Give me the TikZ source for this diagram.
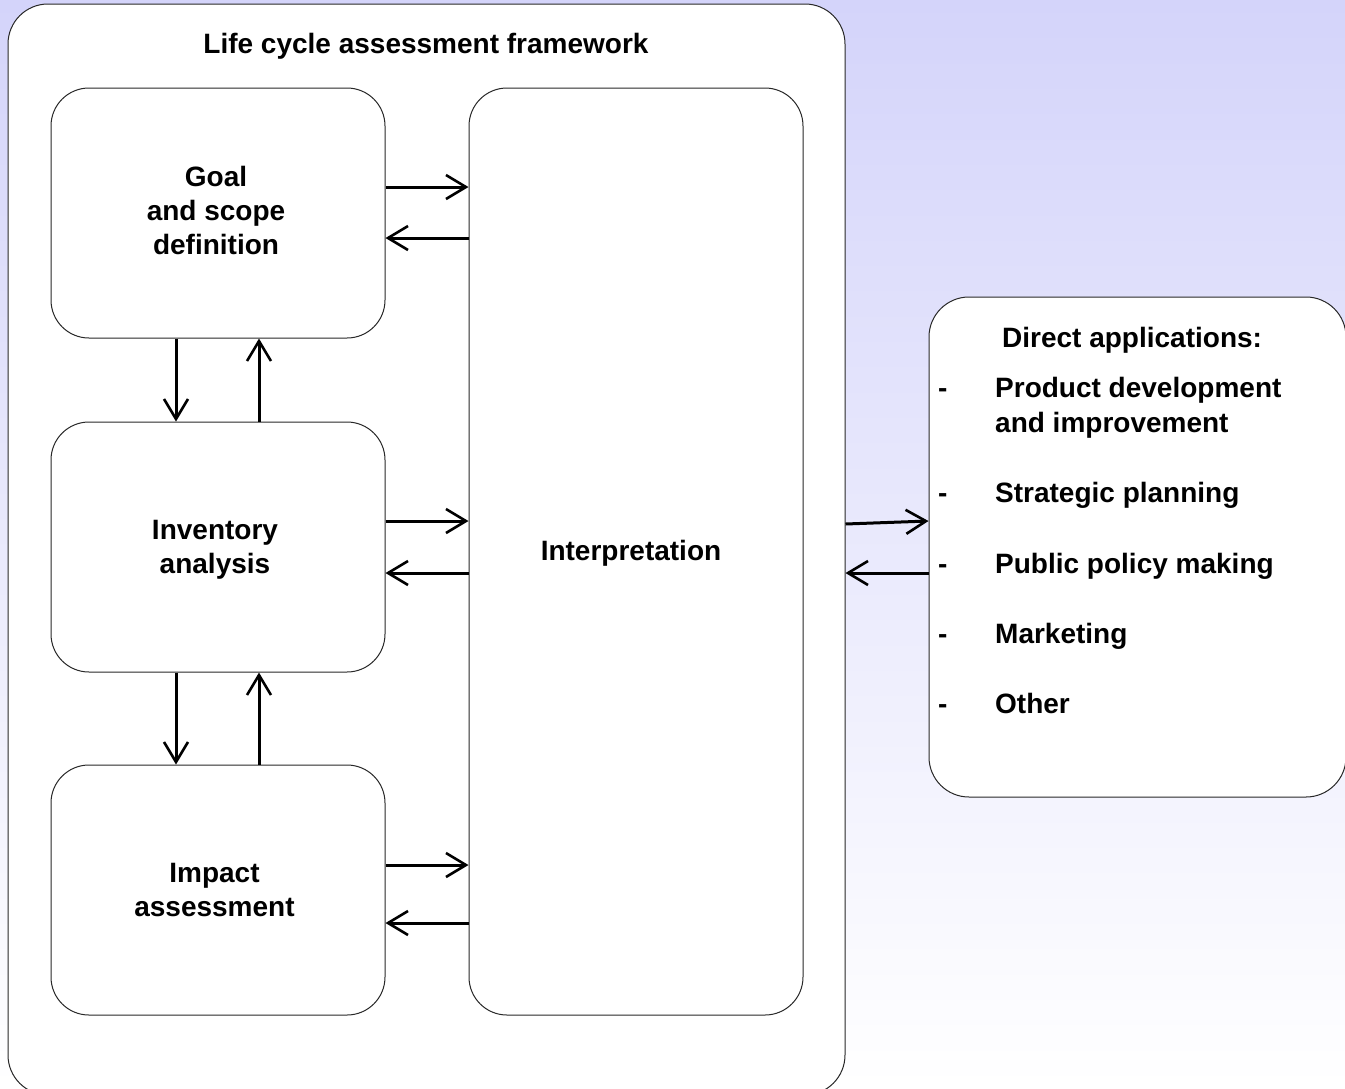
\documentclass[tikz,border=0pt]{standalone}
\usepackage{fontspec}
\setmainfont{Liberation Sans}
\usetikzlibrary{arrows.meta}
\newcommand{\lcafont}{\fontsize{28}{34}\selectfont\bfseries}
\definecolor{bgtop}{RGB}{212,212,250}
\definecolor{bgbottom}{RGB}{255,255,255}
\definecolor{edge}{RGB}{40,40,40}
\begin{document}
\begin{tikzpicture}[x=1pt,y=-1pt,
  box/.style={draw=edge,line width=1pt,fill=white,inner sep=0pt},
  stage/.style={box,rounded corners=38pt,minimum width=334pt,minimum height=250pt},
  stagetext/.style={align=center,font=\lcafont,inner sep=0pt},
  arr/.style={line width=3pt,-{Straight Barb[length=20pt,width=24pt,line width=2.6pt]}},
  lbl/.style={font=\lcafont,inner sep=0pt,anchor=base west}
]
% page and background
\useasboundingbox (0,0) rectangle (1345,1088);
\shade[top color=bgtop,bottom color=bgbottom] (0,0) rectangle (1345,1088);

% outer framework
\node[box,rounded corners=40pt,minimum width=837pt,minimum height=1091pt] (frame) at (426.5,549.5) {};
\node[font=\lcafont,inner sep=0pt,anchor=base] (title) at (426,53) {Life cycle assessment framework};

% phases
\node[stage] (goal) at (218,213) {};
\node[stage] (inv)  at (218,547) {};
\node[stage] (imp)  at (218,890) {};
\node[stage,minimum height=927pt] (interp) at (636,551.5) {};
\node[stagetext] (goalt) at ([shift={(-2,-3)}]goal.center) {Goal\\and scope\\definition};
\node[stagetext] (invt) at ([shift={(-3,3)}]inv.center) {Inventory\\analysis};
\node[stagetext] (impt) at ([shift={(-3.5,0)}]imp.center) {Impact\\assessment};
\node[stagetext] (interpt) at ([shift={(-5,2)}]interp.center) {Interpretation};

% applications
\node[box,rounded corners=40pt,minimum width=417pt,minimum height=500pt] (apps) at (1137.5,547) {};
\node[lbl] (appt) at (1002,347) {Direct applications:};
\node[lbl] (d1) at (938,397) {-};
\node[lbl] (a1) at (995,397) {Product development};
\node[lbl] (a1b) at (995,432) {and improvement};
\node[lbl] (d2) at (938,502) {-};
\node[lbl] (a2) at (995,502) {Strategic planning};
\node[lbl] (d3) at (938,573) {-};
\node[lbl] (a3) at (995,573) {Public policy making};
\node[lbl] (d4) at (938,643) {-};
\node[lbl] (a4) at (995,643) {Marketing};
\node[lbl] (d5) at (938,713) {-};
\node[lbl] (a5) at (995,713) {Other};

% phase <-> interpretation
\coordinate (g1) at ([yshift=26pt]goal.east);
\coordinate (g2) at ([yshift=-25pt]goal.east);
\coordinate (i1) at ([yshift=26pt]inv.east);
\coordinate (i2) at ([yshift=-26pt]inv.east);
\coordinate (m1) at ([yshift=25pt]imp.east);
\coordinate (m2) at ([yshift=-33pt]imp.east);
\draw[arr] (g1) -- (g1 -| interp.west);
\draw[arr] (g2 -| interp.west) -- (g2);
\draw[arr] (i1) -- (i1 -| interp.west);
\draw[arr] (i2 -| interp.west) -- (i2);
\draw[arr] (m1) -- (m1 -| interp.west);
\draw[arr] (m2 -| interp.west) -- (m2);

% phase <-> phase
\coordinate (gd) at ([xshift=-42pt]goal.south);
\coordinate (gu) at ([xshift=41pt]goal.south);
\coordinate (id) at ([xshift=-42pt]inv.south);
\coordinate (iu) at ([xshift=41pt]inv.south);
\draw[arr] (gd) -- (gd |- inv.north);
\draw[arr] (gu |- inv.north) -- (gu);
\draw[arr] (id) -- (id |- imp.north);
\draw[arr] (iu |- imp.north) -- (iu);

% framework <-> applications
\coordinate (f1) at ([yshift=25.5pt]frame.east);
\coordinate (f2) at ([yshift=-23.5pt]frame.east);
\coordinate (p1) at ([yshift=26pt]apps.west);
\draw[arr] (f1) -- (p1);
\draw[arr] (f2 -| apps.west) -- (f2);
\end{tikzpicture}
\end{document}
